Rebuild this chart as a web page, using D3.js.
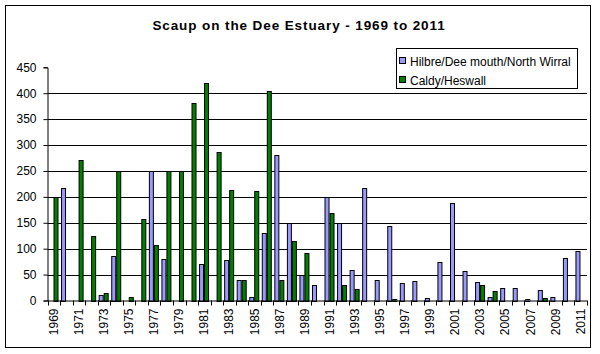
<!DOCTYPE html>
<html>
<head>
<meta charset="utf-8">
<script src="https://cdn.jsdelivr.net/npm/d3@7"></script>
<style>
  body { margin: 0; background: #fff; }
  svg { display: block; font-family: "Liberation Sans", Arial, sans-serif; }
</style>
</head>
<body>
<div id="root"></div>
<script>
// years on the x axis (1969..2011)
const years = ['1969','1970','1971','1972','1973','1974','1975','1976','1977','1978',
  '1979','1980','1981','1982','1983','1984','1985','1986','1987','1988',
  '1989','1990','1991','1992','1993','1994','1995','1996','1997','1998',
  '1999','2000','2001','2002','2003','2004','2005','2006','2007','2008',
  '2009','2010','2011'];

// Hilbre/Dee mouth/North Wirral
const hilbre = [0, 218, 0, 0, 10, 86, 0, 0, 250, 80,
  0, 0, 70, 0, 78, 40, 6, 130, 280, 150,
  50, 30, 200, 150, 58, 218, 40, 143, 34, 37,
  4, 75, 188, 57, 35, 6, 24, 24, 2, 20,
  7, 82, 96];

// Caldy/Heswall
const caldy = [200, 0, 272, 124, 14, 250, 7, 158, 108, 250,
  250, 382, 420, 286, 214, 40, 212, 405, 40, 114,
  91, 0, 168, 30, 22, 0, 0, 2, 0, 0,
  0, 0, 0, 0, 30, 18, 0, 0, 0, 4,
  0, 0, 0];

const seriesNames = ['Hilbre/Dee mouth/North Wirral', 'Caldy/Heswall'];
const seriesColors = ['#9999ff', '#008000'];
const yTicks = [0, 50, 100, 150, 200, 250, 300, 350, 400, 450];

const W = 600, H = 354;
const plot = { left: 47.5, right: 587, top: 67.3, bottom: 300.5 };

const svg = d3.select('#root').append('svg')
  .attr('width', W)
  .attr('height', H);

svg.append('rect').attr('width', W).attr('height', H).attr('fill', '#fff');

// outer frame
svg.append('rect')
  .attr('x', 5.5).attr('y', 5.5)
  .attr('width', 585).attr('height', 342)
  .attr('fill', 'none')
  .attr('stroke', '#000')
  .attr('stroke-width', 1);

// title
svg.append('text')
  .attr('x', 299)
  .attr('y', 30)
  .attr('text-anchor', 'middle')
  .attr('font-size', 13.5)
  .attr('font-weight', 'bold')
  .attr('letter-spacing', 0.9)
  .text('Scaup on the Dee Estuary - 1969 to 2011');

// scales
const x = d3.scaleBand()
  .domain(years)
  .range([plot.left, plot.right])
  .paddingInner(0)
  .paddingOuter(0);

const x1 = d3.scaleBand()
  .domain([0, 1])
  .range([0, x.bandwidth()])
  .paddingInner(0)
  .paddingOuter(0.25)
  .align(0.2);

const y = d3.scaleLinear()
  .domain([0, 450])
  .range([plot.bottom, plot.top]);

// gridlines (no line at 0 or 450)
svg.append('g')
  .selectAll('line')
  .data(yTicks.filter(t => t > 0 && t < 450))
  .join('line')
  .attr('x1', plot.left)
  .attr('x2', plot.right)
  .attr('y1', d => Math.round(y(d)) + 0.5)
  .attr('y2', d => Math.round(y(d)) + 0.5)
  .attr('stroke', '#000')
  .attr('stroke-width', 1);

// bars
const rows = years.map((yr, i) => ({ yr, vals: [hilbre[i], caldy[i]] }));
const groups = svg.append('g')
  .selectAll('g')
  .data(rows)
  .join('g')
  .attr('transform', d => `translate(${x(d.yr)},0)`);

groups.selectAll('rect')
  .data(d => d.vals.map((v, k) => ({ v, k })).filter(e => e.v > 0))
  .join('rect')
  .attr('x', e => Math.round(x1(e.k)) + 0.5)
  .attr('y', e => Math.round(y(e.v)) + 0.5)
  .attr('width', Math.round(x1.bandwidth()) - 1)
  .attr('height', e => Math.max(0, Math.round(y(0)) - Math.round(y(e.v))))
  .attr('fill', e => seriesColors[e.k])
  .attr('stroke', '#000')
  .attr('stroke-width', 1);

// y axis
const gy = svg.append('g')
  .attr('transform', `translate(${plot.left},0)`)
  .call(d3.axisLeft(y).tickValues(yTicks).tickSize(4).tickPadding(7));
gy.selectAll('text').attr('font-size', 12).attr('font-family', null).attr('fill', '#000');
gy.selectAll('line,path').attr('stroke', '#000');

// x axis: ticks on category boundaries, labels on odd years
const gx = svg.append('g')
  .attr('transform', `translate(0,${plot.bottom})`);
gx.append('line')
  .attr('x1', plot.left).attr('x2', plot.right)
  .attr('y1', 0.5).attr('y2', 0.5)
  .attr('stroke', '#000');
gx.selectAll('line.tick')
  .data(years.concat(['end']))
  .join('line')
  .attr('class', 'tick')
  .attr('x1', d => Math.round(d === 'end' ? plot.right : x(d)) + 0.5)
  .attr('x2', d => Math.round(d === 'end' ? plot.right : x(d)) + 0.5)
  .attr('y1', 0)
  .attr('y2', 5)
  .attr('stroke', '#000');
gx.selectAll('text')
  .data(years.filter((d, i) => i % 2 === 0))
  .join('text')
  .attr('transform', d => `translate(${x(d) + x.bandwidth() / 2 + 4},8) rotate(-90)`)
  .attr('text-anchor', 'end')
  .attr('font-size', 12)
  .text(d => d);

// legend
const lg = svg.append('g').attr('transform', 'translate(396,48)');
lg.append('rect')
  .attr('x', 0.5).attr('y', 0.5)
  .attr('width', 181).attr('height', 40)
  .attr('fill', '#fff')
  .attr('stroke', '#000');
seriesNames.forEach((name, k) => {
  const cy = 13 + k * 19;
  lg.append('rect')
    .attr('x', 3.5).attr('y', cy - 3.5)
    .attr('width', 6).attr('height', 6)
    .attr('fill', seriesColors[k])
    .attr('stroke', '#000');
  lg.append('text')
    .attr('x', 14)
    .attr('y', cy + 4.5)
    .attr('font-size', 12)
    .text(name);
});
</script>
</body>
</html>
